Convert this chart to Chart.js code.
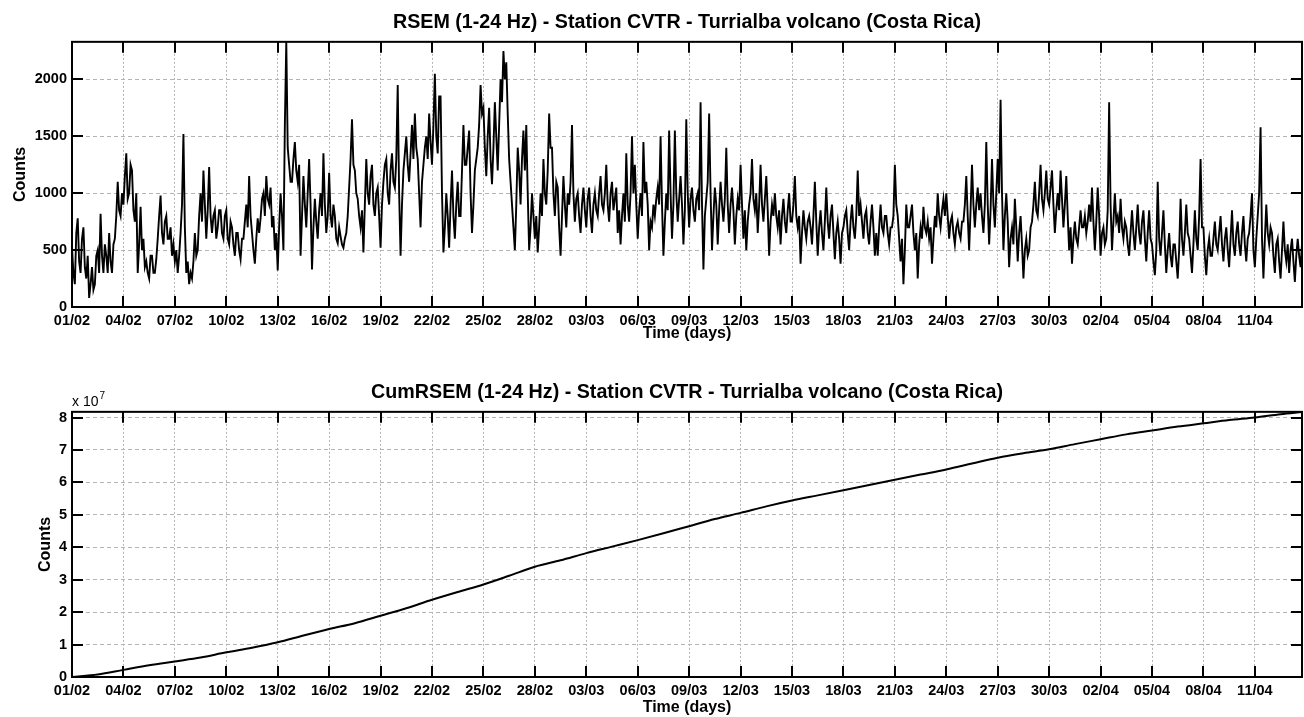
<!DOCTYPE html>
<html>
<head>
<meta charset="utf-8">
<title>RSEM - Station CVTR</title>
<script src="https://cdn.jsdelivr.net/npm/chart.js@4"></script>
<style>
  html, body { margin: 0; padding: 0; background: #fff; }
  #wrap { position: relative; width: 1304px; height: 717px; }
  canvas { position: absolute; left: 0; }
  #rsem { top: 0; }
  #cum { top: 355px; }
</style>
</head>
<body>
<div id="wrap">
  <canvas id="rsem" width="1304" height="345"></canvas>
  <canvas id="cum" width="1304" height="362"></canvas>
</div>
<script>
// x axis: days since 01/02, one label every 3 days
const tickDays = [0, 3, 6, 9, 12, 15, 18, 21, 24, 27, 30, 33, 36, 39, 42, 45, 48, 51, 54, 57, 60, 63, 66, 69];
const tickLabels = ["01/02", "04/02", "07/02", "10/02", "13/02", "16/02", "19/02", "22/02", "25/02", "28/02",
  "03/03", "06/03", "09/03", "12/03", "15/03", "18/03", "21/03", "24/03", "27/03", "30/03",
  "02/04", "05/04", "08/04", "11/04"];
const DAY_MAX = 71.75;

// RSEM counts, 12 samples per day (one row per day)
const SAMPLES_PER_DAY = 12;
const rsemCounts = [
  520, 300, 200, 650, 780, 400, 300, 600, 700, 350, 250, 450,
  80, 200, 350, 150, 200, 450, 500, 300, 820, 450, 300, 550,
  450, 300, 650, 400, 300, 550, 600, 800, 1100, 850, 800, 1000,
  900, 1150, 1350, 950, 1000, 1250, 1200, 850, 750, 1000, 300, 550,
  880, 500, 600, 350, 400, 300, 250, 450, 450, 300, 300, 420,
  600, 800, 980, 650, 550, 750, 800, 600, 600, 700, 450, 550,
  400, 500, 300, 450, 650, 900, 1520, 700, 300, 400, 200, 300,
  250, 400, 650, 450, 500, 800, 1000, 750, 1200, 900, 600, 850,
  1230, 800, 650, 800, 850, 600, 700, 850, 850, 650, 600, 800,
  850, 600, 550, 750, 700, 550, 450, 650, 650, 500, 420, 600,
  600, 750, 900, 700, 1150, 800, 650, 500, 380, 600, 780, 650,
  780, 950, 1000, 800, 1150, 950, 900, 1050, 700, 800, 500, 650,
  320, 700, 1000, 800, 500, 1600, 2330, 1400, 1250, 1100, 1100, 1300,
  1450, 1200, 1100, 1250, 450, 800, 1150, 900, 700, 1000, 1300, 900,
  330, 700, 950, 750, 600, 850, 1000, 800, 1350, 900, 650, 800,
  1180, 800, 700, 900, 800, 600, 560, 700, 620, 550, 520, 600,
  650, 800, 1050, 1300, 1650, 1250, 1200, 1000, 950, 800, 700, 850,
  480, 900, 1300, 1000, 900, 1150, 1250, 900, 800, 1000, 1050, 800,
  520, 900, 1100, 1250, 1300, 1000, 900, 1200, 1350, 1100, 1050, 1300,
  1950, 1000, 450, 900, 1200, 1350, 1500, 1250, 1100, 1350, 1600, 1300,
  1700, 1400, 1300, 1000, 700, 1100, 1250, 1400, 1500, 1300, 1700, 1450,
  1250, 1600, 2050, 1500, 1350, 1850, 1850, 1000, 480, 700, 1000, 800,
  520, 900, 1200, 800, 600, 900, 1100, 800, 800, 1200, 1600, 1250,
  1250, 1400, 1550, 1000, 650, 900, 1200, 1300, 1400, 1600, 1950, 1700,
  1750, 1400, 1150, 1500, 1750, 1300, 1080, 1400, 1800, 1500, 1200, 1600,
  2000, 1800, 2250, 2000, 2150, 1700, 1300, 1100, 900, 700, 500, 900,
  1400, 1200, 900, 1300, 1550, 1200, 1600, 1000, 500, 700, 1000, 800,
  600, 800, 480, 700, 1000, 800, 1300, 1000, 900, 1200, 1700, 1400,
  1400, 1000, 800, 1100, 1050, 700, 450, 800, 1150, 900, 700, 1000,
  900, 1100, 1600, 1000, 750, 950, 1000, 800, 650, 900, 1050, 850,
  700, 950, 1050, 800, 650, 900, 1000, 850, 800, 1000, 1150, 900,
  850, 1000, 1250, 900, 750, 1000, 1100, 850, 950, 1050, 650, 850,
  550, 800, 1000, 750, 1350, 900, 750, 1000, 1500, 1000, 1250, 900,
  600, 850, 1000, 800, 1450, 1000, 1100, 900, 500, 750, 700, 900,
  800, 950, 1050, 900, 1500, 900, 450, 750, 1000, 850, 1550, 1000,
  600, 900, 1550, 1000, 750, 950, 1150, 900, 550, 850, 1650, 1000,
  700, 950, 1050, 850, 750, 950, 1000, 850, 1800, 900, 330, 800,
  950, 1100, 1700, 1000, 500, 800, 1050, 900, 550, 850, 1100, 900,
  750, 950, 1400, 900, 650, 900, 1050, 850, 550, 800, 950, 850,
  1250, 900, 600, 850, 500, 750, 900, 1000, 1300, 950, 850, 1000,
  650, 900, 1250, 900, 750, 950, 1150, 850, 450, 750, 900, 800,
  1000, 800, 700, 850, 550, 800, 950, 750, 650, 850, 1000, 750,
  750, 900, 1150, 800, 700, 800, 380, 650, 850, 700, 600, 750,
  800, 700, 550, 800, 1100, 750, 450, 700, 850, 650, 500, 750,
  1050, 750, 600, 800, 900, 650, 420, 650, 750, 600, 380, 650,
  700, 800, 850, 650, 500, 750, 900, 700, 600, 800, 1200, 800,
  900, 750, 600, 800, 850, 650, 550, 750, 900, 700, 450, 650,
  450, 700, 900, 700, 650, 800, 800, 650, 550, 700, 700, 800,
  1250, 900, 800, 600, 400, 600, 200, 500, 900, 700, 700, 800,
  900, 650, 500, 650, 250, 550, 700, 600, 880, 700, 650, 750,
  600, 700, 380, 600, 800, 700, 1000, 800, 700, 850, 950, 800,
  1000, 800, 600, 750, 800, 650, 550, 700, 750, 650, 600, 750,
  750, 900, 1150, 800, 500, 850, 1250, 900, 700, 900, 1050, 850,
  1000, 800, 650, 900, 1450, 900, 550, 850, 1300, 900, 700, 1000,
  1300, 1000, 1820, 1000, 500, 800, 1000, 750, 350, 600, 700, 550,
  950, 700, 400, 650, 800, 550, 250, 500, 600, 450, 500, 700,
  750, 900, 1100, 850, 800, 1000, 1250, 950, 850, 1000, 1200, 950,
  900, 1050, 1200, 900, 650, 850, 1000, 850, 1200, 950, 700, 900,
  1150, 800, 500, 700, 380, 600, 750, 600, 550, 700, 850, 700,
  700, 800, 650, 750, 900, 750, 1050, 750, 500, 750, 1050, 800,
  450, 650, 700, 550, 600, 850, 1800, 900, 500, 750, 1000, 750,
  800, 650, 950, 700, 600, 750, 700, 550, 450, 650, 850, 650,
  500, 700, 900, 650, 550, 750, 850, 600, 400, 650, 850, 600,
  550, 400, 280, 500, 1100, 600, 450, 650, 850, 550, 300, 500,
  650, 450, 350, 550, 550, 400, 250, 500, 950, 600, 450, 650,
  900, 650, 600, 450, 300, 550, 850, 600, 500, 800, 1300, 700,
  700, 450, 280, 500, 600, 450, 450, 600, 750, 550, 500, 650,
  800, 550, 400, 600, 700, 500, 350, 600, 850, 550, 450, 650,
  750, 550, 450, 650, 800, 550, 400, 600, 650, 800, 1000, 500,
  350, 600, 800, 1000, 1580, 600, 250, 600, 900, 650, 550, 700,
  650, 450, 300, 550, 600, 400, 250, 500, 750, 500, 400, 550,
  300, 500, 600, 400, 220, 450, 600, 450, 350, 550
];
const rsemTicks = [0, 500, 1000, 1500, 2000];
const RSEM_MAX = 2330;

// cumulative RSEM (x 10^7 counts)
const cumDays = [0, 1.5, 3, 4.5, 6, 7.5, 9, 10.5, 12, 13.5, 15, 16.5, 18, 19.5, 21, 22.5, 24, 25.5,
  27, 28.5, 30, 31.5, 33, 34.5, 36, 37.5, 39, 40.5, 42, 43.5, 45, 46.5, 48, 49.5, 51, 52.5,
  54, 55.5, 57, 58.5, 60, 61.5, 63, 64.5, 66, 67.5, 69, 70.5, 71.75];
const cumCounts = [0, 0.08, 0.22, 0.36, 0.48, 0.6, 0.76, 0.9, 1.07, 1.28, 1.48, 1.66, 1.89, 2.12, 2.38, 2.62, 2.85, 3.12,
  3.4, 3.6, 3.82, 4.02, 4.22, 4.43, 4.65, 4.87, 5.06, 5.26, 5.44, 5.6, 5.76, 5.92, 6.08, 6.24, 6.4, 6.58,
  6.76, 6.9, 7.02, 7.18, 7.33, 7.48, 7.6, 7.72, 7.82, 7.92, 8.0, 8.1, 8.17];
const cumTicks = [0, 1, 2, 3, 4, 5, 6, 7, 8];
const CUM_MAX = 8.175;

const FONT = "'Liberation Sans', Arial, Helvetica, sans-serif";
Chart.defaults.font.family = FONT;
Chart.defaults.color = "#000";

// matlab style box with ticks pointing inward
const boxTicks = {
  id: "boxTicks",
  afterDraw(chart, args, opts) {
    const { ctx, chartArea: a, scales: { x, y } } = chart;
    const len = 11;
    ctx.save();
    ctx.strokeStyle = "#000";
    ctx.lineWidth = 2;
    ctx.beginPath();
    x.ticks.forEach((t) => {
      const px = Math.round(x.getPixelForValue(t.value));
      ctx.moveTo(px, a.bottom); ctx.lineTo(px, a.bottom - len);
      ctx.moveTo(px, a.top); ctx.lineTo(px, a.top + len);
    });
    y.ticks.forEach((t) => {
      const py = Math.round(y.getPixelForValue(t.value));
      ctx.moveTo(a.left, py); ctx.lineTo(a.left + len, py);
      ctx.moveTo(a.right, py); ctx.lineTo(a.right - len, py);
    });
    ctx.stroke();
    ctx.strokeRect(a.left, a.top, a.right - a.left, a.bottom - a.top);
    if (opts.exponent) {
      ctx.fillStyle = "#000";
      ctx.textBaseline = "alphabetic";
      ctx.font = "14px " + FONT;
      ctx.fillText("x 10", a.left, a.top - 6);
      const w = ctx.measureText("x 10").width;
      ctx.font = "10px " + FONT;
      ctx.fillText(opts.exponent, a.left + w + 1, a.top - 13);
    }
    ctx.restore();
  },
};

function xScale(height, titlePad) {
  return {
    type: "linear",
    min: 0,
    max: DAY_MAX,
    afterBuildTicks: (s) => { s.ticks = tickDays.map((v) => ({ value: v })); },
    afterFit: (s) => { s.height = height; },
    ticks: {
      callback: (v, i) => tickLabels[i],
      autoSkip: false, maxRotation: 0, padding: 5,
      font: { size: 14.5, weight: "bold" },
    },
    grid: { color: "#b4b4b4", lineWidth: 1, drawTicks: false },
    border: { display: false, dash: [2, 2] },
    title: { display: true, text: "Time (days)", font: { size: 16, weight: "bold" }, padding: { top: 0, bottom: titlePad } },
  };
}

function yScale(max, ticks, titlePad) {
  return {
    min: 0,
    max: max,
    afterBuildTicks: (s) => { s.ticks = ticks.map((v) => ({ value: v })); },
    afterFit: (s) => { s.width = 72; },
    ticks: { padding: 5, font: { size: 14.5, weight: "bold" }, callback: (v) => String(v) },
    grid: { color: "#b4b4b4", lineWidth: 1, drawTicks: false },
    border: { display: false, dash: [4, 3] },
    title: { display: true, text: "Counts", font: { size: 16, weight: "bold" }, padding: { top: titlePad, bottom: 0 } },
  };
}

function plotTitle(text, padTop) {
  return {
    display: true,
    text: text,
    color: "#000",
    fullSize: false,
    font: { size: 19.7, weight: "bold" },
    padding: { top: padTop, bottom: 7.9 },
  };
}

// RSEM time series
new Chart(document.getElementById("rsem"), {
  type: "line",
  data: {
    datasets: [{
      data: rsemCounts.map((c, i) => ({ x: i / SAMPLES_PER_DAY, y: c })),
      borderColor: "#000",
      borderWidth: 1.9,
      pointRadius: 0,
      tension: 0,
    }],
  },
  options: {
    responsive: false,
    animation: false,
    devicePixelRatio: 1,
    layout: { padding: { left: 0, right: 2, top: 0, bottom: 0 } },
    plugins: {
      legend: { display: false },
      tooltip: { enabled: false },
      title: plotTitle("RSEM (1-24 Hz) - Station CVTR - Turrialba volcano (Costa Rica)", 10.3),
      boxTicks: {},
    },
    scales: { x: xScale(38, 2), y: yScale(RSEM_MAX, rsemTicks, 11) },
  },
  plugins: [boxTicks],
});

// cumulative RSEM
new Chart(document.getElementById("cum"), {
  type: "line",
  data: {
    datasets: [{
      data: cumCounts.map((c, i) => ({ x: cumDays[i], y: c })),
      borderColor: "#000",
      borderWidth: 2,
      pointRadius: 0,
      cubicInterpolationMode: "monotone",
    }],
  },
  options: {
    responsive: false,
    animation: false,
    devicePixelRatio: 1,
    layout: { padding: { left: 0, right: 2, top: 0, bottom: 0 } },
    plugins: {
      legend: { display: false },
      tooltip: { enabled: false },
      title: plotTitle("CumRSEM (1-24 Hz) - Station CVTR - Turrialba volcano (Costa Rica)", 25.3),
      boxTicks: { exponent: "7" },
    },
    scales: { x: xScale(40, 0), y: yScale(CUM_MAX, cumTicks, 36) },
  },
  plugins: [boxTicks],
});
</script>
</body>
</html>
